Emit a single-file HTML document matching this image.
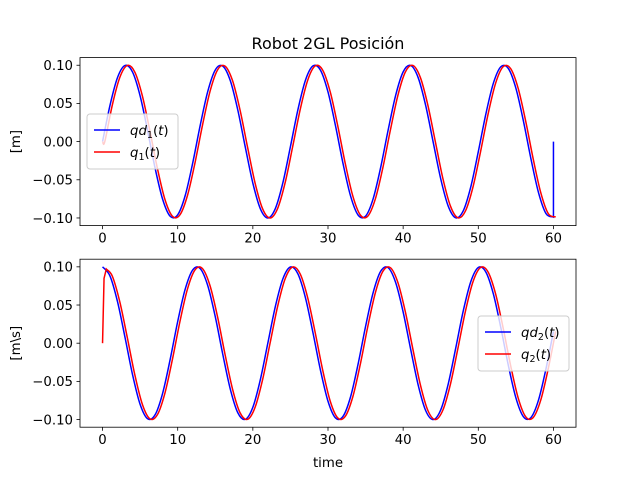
<!DOCTYPE html>
<html><head><meta charset="utf-8"><style>
html,body{margin:0;padding:0;background:#fff}
svg{display:block;font-family:"DejaVu Sans","Liberation Sans",sans-serif}
</style></head><body>
<svg id="fig" width="640" height="480" viewBox="0 0 640 480">
<rect width="640" height="480" fill="#fff"/>
<text x="328" y="49" text-anchor="middle" font-size="16">Robot 2GL Posición</text>
<text x="473" y="467" text-anchor="middle" font-size="13.3" transform="translate(-145,0)">time</text>
<g id="top"></g>
<g id="bot"></g>
</svg>
<script>
// time samples (s)
const times = [0,1,2,3,4,5,6,7,8,9,10,11,12,13,14,15,16,17,18,19,20,21,22,23,24,25,26,27,28,29,30,31,32,33,34,35,36,37,38,39,40,41,42,43,44,45,46,47,48,49,50,51,52,53,54,55,56,57,58,59,60];
// desired position 1 (m)
const qd1 = [0,.0479,.0841,.0997,.0909,.0598,.0141,-.0351,-.0757,-.0978,-.0959,-.0706,-.0279,.0215,.0657,.0938,.0989,.0798,.0412,-.0075,-.0544,-.0880,-.1000,-.0875,-.0537,-.0066,.0420,.0804,.0991,.0935,.0650,.0206,-.0288,-.0712,-.0961,-.0976,-.0751,-.0342,.0150,.0605,.0913,.0997,.0837,.0472,-.0009,-.0488,-.0846,-.0998,-.0906,-.0592,-.0132,.0359,.0763,.0980,.0956,.0699,.0271,-.0224,-.0664,-.0941,-.0988];
// desired position 2
const qd2 = [.1,.0878,.0540,.0071,-.0416,-.0801,-.0990,-.0936,-.0654,-.0211,.0284,.0709,.0960,.0977,.0754,.0347,-.0146,-.0602,-.0911,-.0997,-.0839,-.0476,.0004,.0483,.0844,.0998,.0907,.0595,.0137,-.0355,-.0760,-.0979,-.0958,-.0703,-.0275,.0220,.0660,.0940,.0989,.0795,.0408,-.0080,-.0548,-.0883,-.1000,-.0873,-.0533,-.0062,.0424,.0806,.0991,.0933,.0647,.0202,-.0292,-.0715,-.0962,-.0974,-.0748,-.0338,.0154];
// measured response lags desired by ~0.3 s
const lag = [0.3];
const q2Lead = [0,0.085,0.097];
const q2LeadT = [0,0.2,0.5];
const xTicks = [0,10,20,30,40,50,60];
const yTicks = [0.10,0.05,0.00,-0.05,-0.10];
const yTickLabels = ["0.10","0.05","0.00","−0.05","−0.10"];

const NS="http://www.w3.org/2000/svg";
function mk(tag,attrs,parent){const e=document.createElementNS(NS,tag);for(const k in attrs)e.setAttribute(k,attrs[k]);parent.appendChild(e);return e;}
const L=80,R=576;
const xs=t=>L+(t+3)/66*(R-L);
function smoothPath(pts){
  let d="M"+pts[0][0].toFixed(2)+","+pts[0][1].toFixed(2);
  for(let i=0;i<pts.length-1;i++){
    const p0=pts[Math.max(i-1,0)],p1=pts[i],p2=pts[i+1],p3=pts[Math.min(i+2,pts.length-1)];
    const c1=[p1[0]+(p2[0]-p0[0])/6,p1[1]+(p2[1]-p0[1])/6];
    const c2=[p2[0]-(p3[0]-p1[0])/6,p2[1]-(p3[1]-p1[1])/6];
    d+=" C"+c1[0].toFixed(2)+","+c1[1].toFixed(2)+" "+c2[0].toFixed(2)+","+c2[1].toFixed(2)+" "+p2[0].toFixed(2)+","+p2[1].toFixed(2);
  }
  return d;
}
function axes(g,top,ylab,id){
  const bottom=top+168;
  const ys=v=>top+(0.11-v)/0.22*168;
  const cp=mk("clipPath",{id:"c"+id},g);
  mk("rect",{x:L,y:top,width:R-L,height:168},cp);
  xTicks.forEach(t=>{
    const tk=mk("line",{x1:xs(t),x2:xs(t),y1:bottom,y2:bottom+3.5,stroke:"#000","stroke-width":0.8},g);
    
    
    const tl=mk("text",{x:xs(t),y:bottom+17,"text-anchor":"middle","font-size":13.3},g);
    tl.textContent=t;
    
    
  });
  yTicks.forEach((v,i)=>{
    const tk=mk("line",{x1:L-3.5,x2:L,y1:ys(v),y2:ys(v),stroke:"#000","stroke-width":0.8},g);
    
    
    const tl=mk("text",{x:L-7,y:ys(v)+4.8,"text-anchor":"end","font-size":13.3},g);
    tl.textContent=yTickLabels[i];
    
    
  });
  const yl=mk("text",{x:0,y:0,"text-anchor":"middle","font-size":13.3,transform:`translate(20,${top+84}) rotate(-90)`},g);
  yl.textContent=ylab;
  
  
  return ys;
}
function addLine(g,d,color,name,id){
  const p=mk("path",{d:d,fill:"none",stroke:color,"stroke-width":1.5,"clip-path":`url(#c${id})`},g);
  
  
}
function frame(g,top){
  const f=mk("rect",{x:L,y:top,width:R-L,height:168,fill:"none",stroke:"#000","stroke-width":0.8},g);
  
  
}
function legend(g,x,y,n){
  const b=mk("rect",{x:x,y:y,width:91,height:55,rx:3,fill:"#fff","fill-opacity":0.8,stroke:"#ccc"},g);
  
  
  [["blue","qd"],["red","q"]].forEach((e,i)=>{
    const yy=y+16+i*22;
    const l=mk("line",{x1:x+7,x2:x+33,y1:yy,y2:yy,stroke:e[0],"stroke-width":1.5},g);
    
    
    const t=mk("text",{x:x+43,y:yy+5,"font-size":13.3},g);
    t.innerHTML=`<tspan font-style="italic">${e[1]}</tspan><tspan font-size="9.5" dy="3">${n}</tspan><tspan dy="-3">(</tspan><tspan font-style="italic">t</tspan><tspan>)</tspan>`;
    
    
  });
}
// top
const gt=document.getElementById("top");
const ys1=axes(gt,57.6,"[m]",1);
let pd1=times.map((t,i)=>[xs(t),ys1(qd1[i])]);
addLine(gt,smoothPath(pd1)+" L"+xs(times[times.length-1])+","+ys1(0),"blue","qd1-line",1);
let p1=[[xs(0),ys1(0)]].concat(times.map((t,i)=>[xs(t+lag[0]),ys1(qd1[i])]));
addLine(gt,smoothPath(p1),"red","q1-line",1);
frame(gt,57.6);
legend(gt,87,114,1);
// bottom
const gb=document.getElementById("bot");
const ys2=axes(gb,259.2,"[m\\s]",2);
let pd2=times.map((t,i)=>[xs(t),ys2(qd2[i])]);
addLine(gb,smoothPath(pd2),"blue","qd2-line",2);
let lead=q2LeadT.map((t,i)=>[xs(t),ys2(q2Lead[i])]);
let rest=times.slice(1).map((t,i)=>[xs(t+lag[0]),ys2(qd2[i+1])]);
addLine(gb,"M"+lead.map(p=>p[0]+","+p[1]).join(" L")+" "+smoothPath(lead.slice(-1).concat(rest)).replace(/^M[^ ]+/,""),"red","q2-line",2);
frame(gb,259.2);
legend(gb,478,316,2);
</script>
</body></html>
